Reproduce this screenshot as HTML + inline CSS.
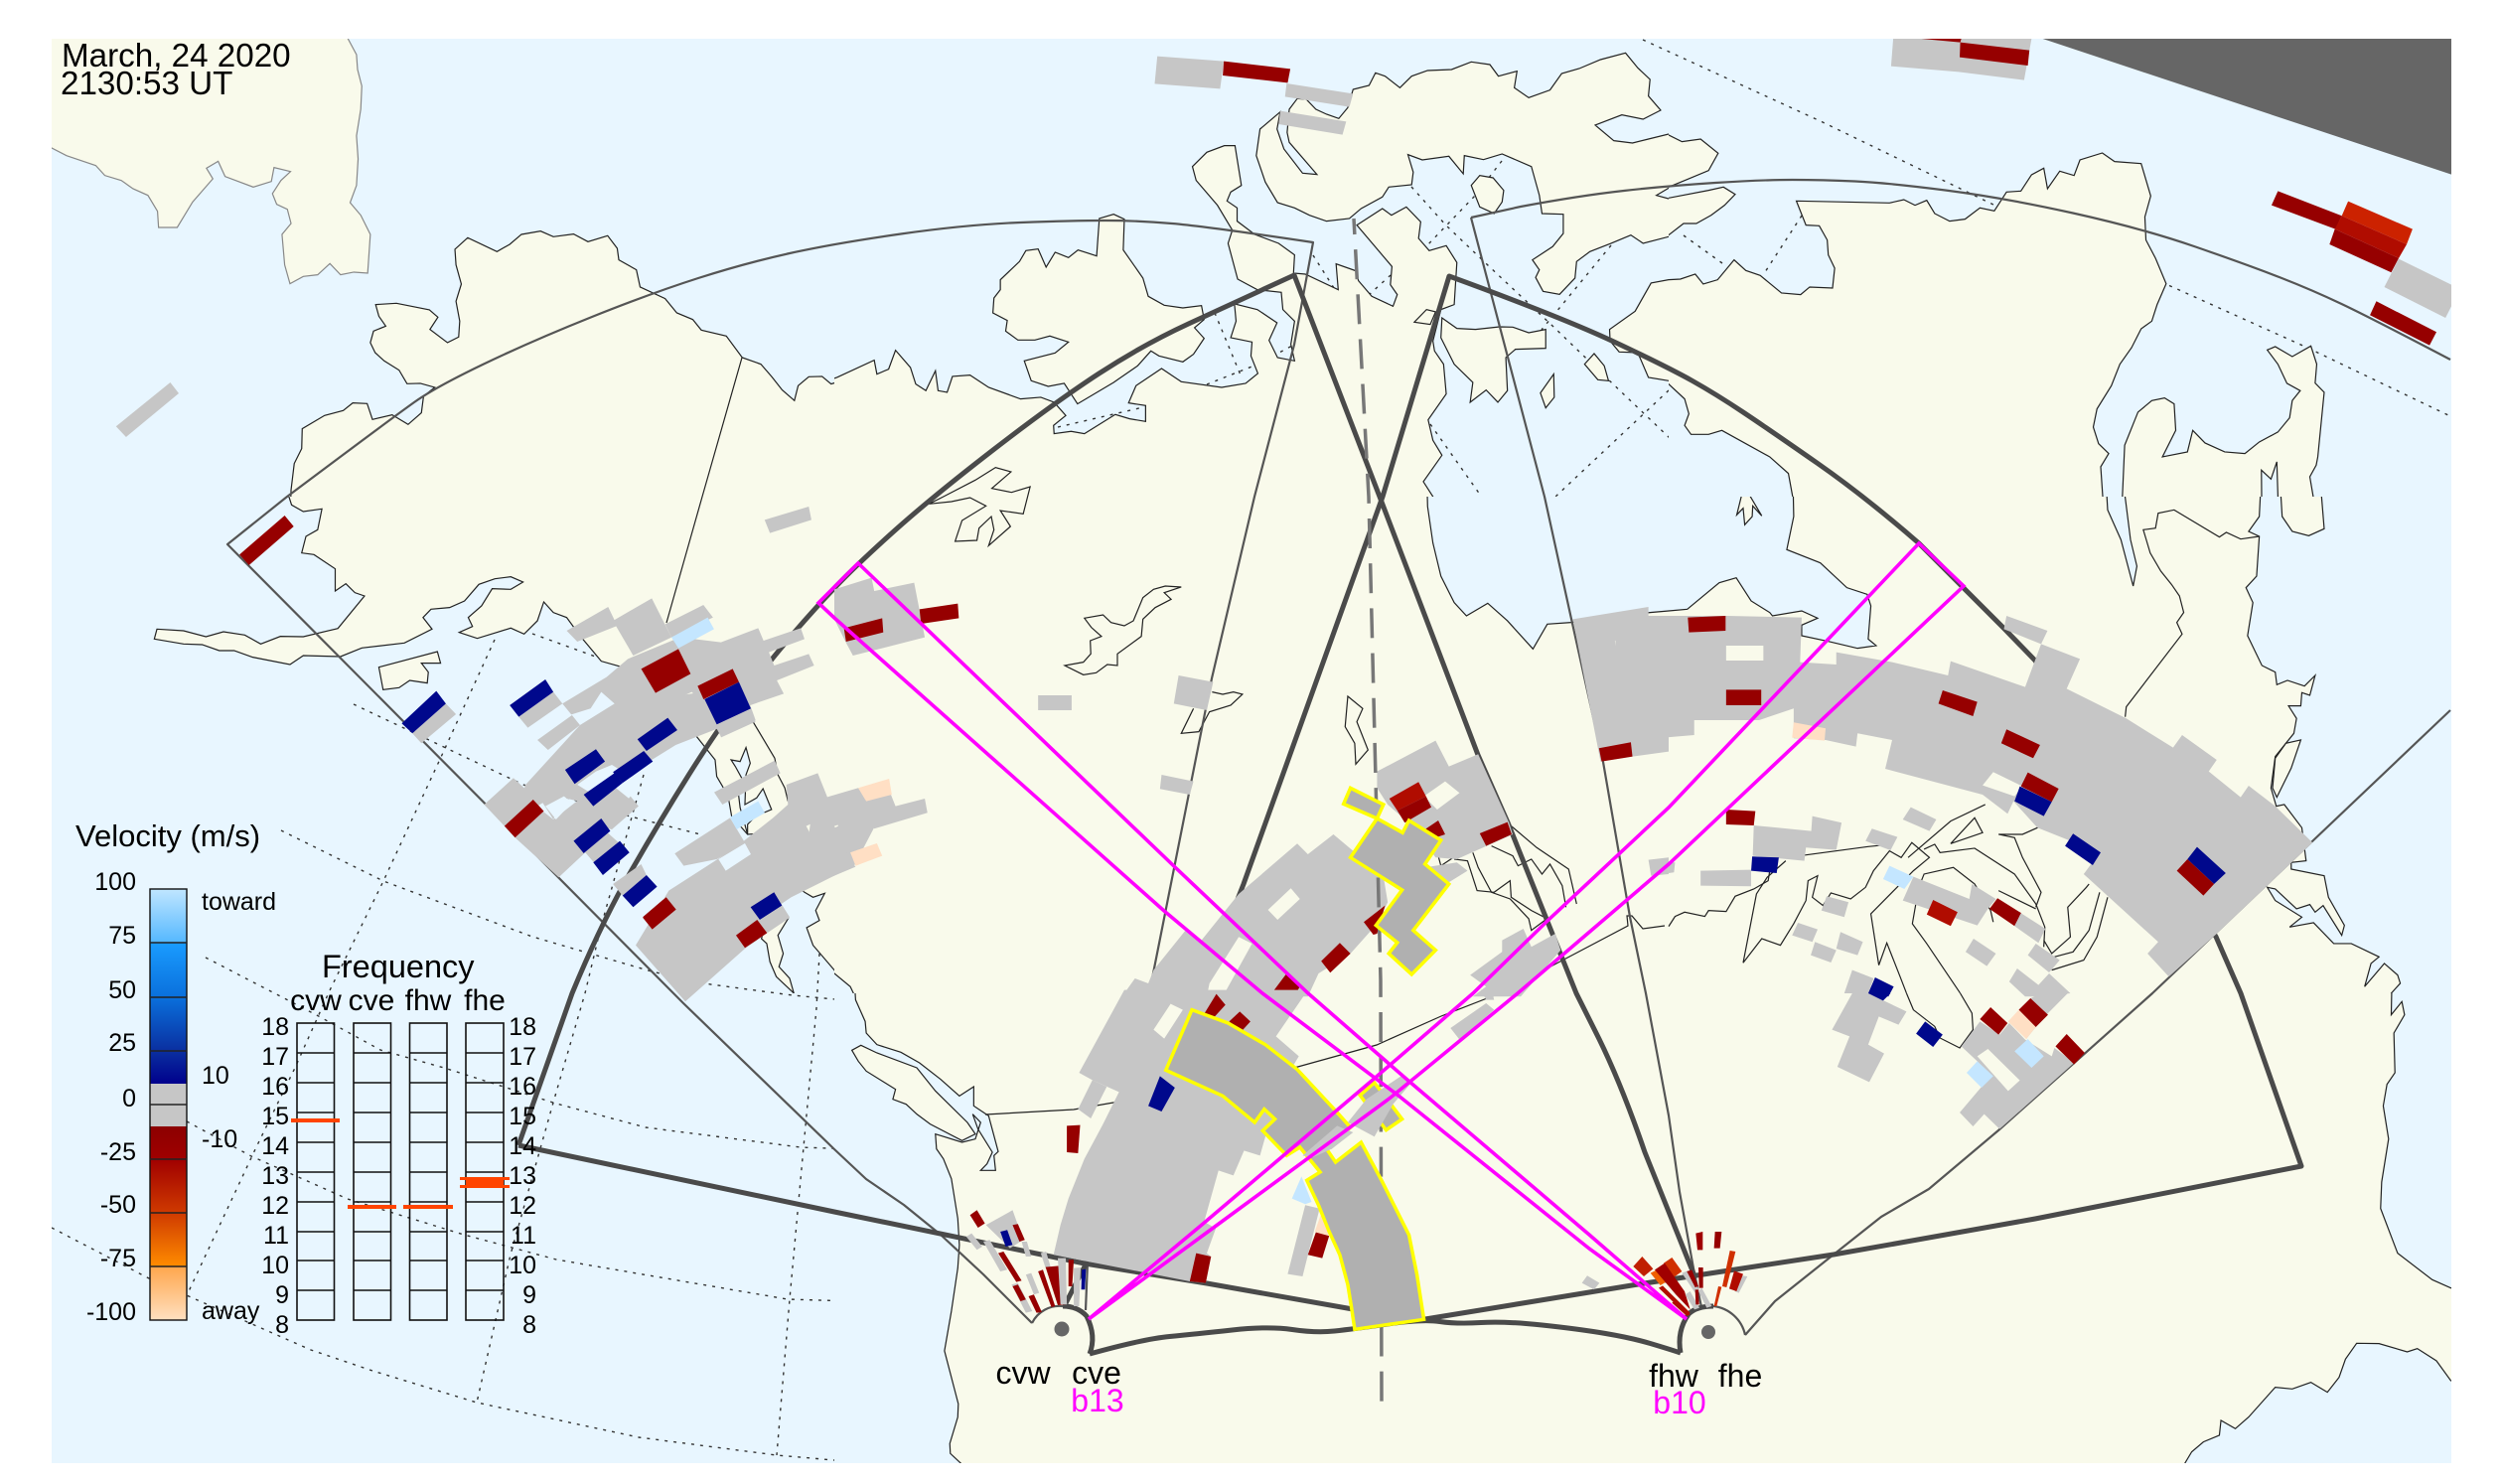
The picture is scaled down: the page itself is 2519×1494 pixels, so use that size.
<!DOCTYPE html>
<html><head><meta charset="utf-8"><style>
html,body{margin:0;padding:0;background:#fff}
svg{display:block}
polygon,polyline,path{vector-effect:non-scaling-stroke}
text{font-family:"Liberation Sans",sans-serif;fill:#000}
.l{fill:#f9faeb;stroke:#222;stroke-width:1.2}
.s{fill:#f9faeb;stroke:#888;stroke-width:1.2}
.w{fill:#e8f6ff;stroke:#222;stroke-width:1.2}
.n{fill:none;stroke:#222;stroke-width:1.2}
.d{fill:none;stroke:#333;stroke-width:1.4;stroke-dasharray:3 6}
.g{fill:#c6c6c6}.r{fill:#960000}.b{fill:#00088c}.lb{fill:#c4e6ff}.p{fill:#ffdfc4}
.hl{fill:#f9faeb}.hw{fill:#e8f6ff}
.y{fill:#b0b0b0;stroke:#ffff00;stroke-width:3.5;stroke-linejoin:miter}
.t{fill:none;stroke:#4a4a4a;stroke-width:5;stroke-linejoin:round}
.f{fill:none;stroke:#555;stroke-width:2.2;stroke-linejoin:round}
.m{fill:none;stroke:#ff00ff;stroke-width:3.6}
.bar{fill:none;stroke:#111;stroke-width:1.6}
.o{fill:#ff4400}
.num{font-size:25px}
</style></head><body>
<svg xmlns="http://www.w3.org/2000/svg" width="2519" height="1494" viewBox="0 0 2519 1494">
<defs>
<clipPath id="map"><rect x="52" y="39" width="2416" height="1434"/></clipPath>
<clipPath id="c1"><rect x="0" y="0" width="840" height="500"/></clipPath>
<clipPath id="c2"><rect x="840" y="0" width="840" height="500"/></clipPath>
<clipPath id="c3"><rect x="1680" y="0" width="840" height="500"/></clipPath>
<clipPath id="c4"><rect x="0" y="500" width="840" height="500"/></clipPath>
<clipPath id="c5"><rect x="840" y="500" width="840" height="500"/></clipPath>
<clipPath id="c6"><rect x="1680" y="500" width="840" height="500"/></clipPath>
<clipPath id="c8"><rect x="840" y="1000" width="840" height="494"/></clipPath>
<clipPath id="c9"><rect x="1680" y="1000" width="840" height="494"/></clipPath>
<linearGradient id="vel" gradientUnits="userSpaceOnUse" x1="0" y1="895" x2="0" y2="1329">
<stop offset="0" stop-color="#c0e6ff"/><stop offset=".124" stop-color="#55b8ff"/><stop offset=".124" stop-color="#1a9cff"/>
<stop offset=".251" stop-color="#0a70dc"/><stop offset=".376" stop-color="#0a2fa0"/><stop offset=".452" stop-color="#00008c"/>
<stop offset=".452" stop-color="#c6c6c6"/><stop offset=".551" stop-color="#c6c6c6"/><stop offset=".551" stop-color="#8c0000"/>
<stop offset=".627" stop-color="#a00000"/><stop offset=".751" stop-color="#cf3a00"/><stop offset=".876" stop-color="#ff8c00"/>
<stop offset=".876" stop-color="#ffa64d"/><stop offset="1" stop-color="#ffe0c0"/>
</linearGradient>
</defs>
<rect width="2519" height="1494" fill="#fff"/>
<g clip-path="url(#map)">
<rect x="52" y="39" width="2416" height="1434" fill="#e8f6ff"/>
<!-- graticule -->
<polyline class="d" points="52,1236 150,1287 190,1305 313,1359 375,1380 480,1412 643,1447 782,1465 840,1470 966,1473"/>
<polyline class="d" points="207,964 317,1021 383,1057 447,1075 510,1095 560,1111 650,1135 806,1155 942,1160"/>
<polyline class="d" points="283,836 386,887 536,943 656,978 708,990 798,1002 862,1008"/>
<polyline class="d" points="188,1129 253,1164 350,1207 467,1243 560,1268 793,1308 960,1313"/>
<polyline class="d" points="356,709 527,790 627,820 705,840"/>
<polyline class="d" points="536,638 605,663"/>
<polyline class="d" points="498,644 445,760 386,887 332,997 297,1075 257,1157 190,1300"/>
<polyline class="d" points="648,780 605,933 589,1000 557,1110 514,1263 480,1412"/>
<polyline class="d" points="825,960 822,1015 809,1155 795,1308 782,1465"/>
<polyline class="d" points="1654,40 1835,123 2009,207 2183,287 2323,350 2467,419"/>
<polyline class="d" points="1421,188 1456,227 1499,268 1563,328 1617,380 1680,440 1726,493 1766,530 1814,587 1878,647"/>
<polyline class="d" points="1512,162 1485,197 1437,247"/>
<polyline class="d" points="1622,247 1552,332"/>
<polyline class="d" points="1680,393 1566,500 1450,580"/>
<polyline class="d" points="1799,478 1752,528 1680,588 1660,610"/>
<polyline class="d" points="1440,427 1488,495 1576,620"/>
<polyline class="d" points="2340,537 2297,607"/>
<polyline class="d" points="2263,635 2384,718"/>
<polyline class="d" points="2465,595 2341,815"/>
<polyline class="d" points="1223,315 1250,380"/>
<polyline class="d" points="1215,387 1263,368 1303,347"/>
<polyline class="d" points="1065,430 1151,410"/>
<polyline class="d" points="1322,257 1343,290"/>
<polyline class="d" points="1378,297 1400,277"/>
<polyline class="d" points="1814,217 1775,277"/>
<polyline class="d" points="1695,237 1734,265"/>
<!-- land cell 1 -->
<g clip-path="url(#c1)"><g transform="translate(0,0) scale(.5357,.3333)">
<polygon class="s" points="654,117 670,165 672,210 680,260 678,330 670,410 673,480 670,560 658,612 678,650 696,708 691,825 665,822 640,830 620,796 597,830 570,835 545,857 535,800 530,708 547,675 540,632 520,617 512,585 528,545 546,518 515,506 510,548 476,565 423,533 410,487 388,508 400,540 362,610 333,687 298,687 296,638 278,590 250,570 228,545 197,530 180,500 125,470 97,447 0,400 0,0 654,0"/>
<polygon class="l" points="547,1480 553,1400 567,1355 568,1295 610,1255 645,1240 663,1217 690,1219 700,1267 737,1253 767,1282 792,1247 796,1197 817,1170 790,1158 765,1159 750,1118 722,1090 705,1065 696,1035 702,1000 725,985 712,955 706,920 745,916 807,936 823,958 808,995 841,1035 862,1018 864,970 857,910 867,858 857,800 855,753 879,718 934,760 958,738 980,708 1016,698 1040,715 1078,707 1105,730 1142,712 1160,750 1163,785 1196,815 1203,867 1250,902 1272,945 1302,965 1318,997 1365,1015 1395,1080 1430,1100 1450,1137 1470,1178 1493,1210 1500,1165 1520,1138 1545,1137 1562,1160 1600,1140 1700,1200 1700,1600 545,1600"/>
</g></g>
<!-- land cell 2 -->
<g clip-path="url(#c2)"><g transform="translate(840,0) scale(.5357,.3333)">
<polygon class="l" points="-100,1200 5,1140 75,1088 80,1130 102,1115 115,1058 143,1110 153,1160 172,1180 190,1120 195,1180 212,1185 222,1137 255,1133 290,1170 350,1205 388,1200 413,1215 435,1255 412,1285 413,1310 445,1303 470,1310 528,1252 555,1265 585,1273 585,1225 553,1217 567,1165 615,1113 652,1153 728,1170 773,1158 796,1128 783,1075 785,1033 745,1020 755,970 752,918 795,935 832,975 817,1028 833,1080 865,1090 858,1040 865,970 843,935 840,883 795,875 758,843 740,735 748,695 720,620 680,545 673,503 700,460 733,440 753,440 765,560 745,580 738,607 757,628 757,668 790,708 835,735 865,770 863,825 885,828 947,875 943,797 980,818 985,848 1010,895 1050,925 1058,890 1045,860 1048,805 982,680 1030,630 1047,650 1075,625 1102,670 1098,720 1118,757 1150,742 1170,793 1165,920 1140,935 1125,1030 1128,1060 1145,1100 1150,1190 1116,1268 1125,1330 1142,1375 1107,1455 1125,1500 1125,1600 -100,1600"/>
<polygon class="l" points="525,647 545,662 543,755 580,840 590,895 620,922 655,930 690,923 695,965 677,990 695,1022 675,1070 655,1093 610,1075 595,1060 570,1105 525,1155 457,1220 432,1158 402,1167 370,1150 357,1090 415,1066 440,1033 405,1015 377,1027 345,1027 322,1000 325,968 298,945 300,900 312,875 312,845 348,790 360,757 383,752 398,807 415,762 440,778 458,755 493,773 498,660"/>
<polygon class="l" points="838,338 800,390 793,470 810,550 833,612 865,628 893,650 925,668 968,660 990,630 1030,595 1042,565 1085,558 1088,520 1078,467 1105,483 1155,472 1182,525 1184,470 1220,482 1255,465 1310,503 1325,590 1330,645 1370,647 1370,705 1350,745 1312,785 1325,815 1318,838 1332,880 1363,889 1392,840 1395,790 1420,760 1460,735 1497,710 1520,735 1568,715 1700,700 1700,640 1568,600 1545,590 1568,568 1700,550 1700,405 1568,405 1530,420 1500,432 1465,425 1430,378 1480,347 1520,360 1553,333 1530,290 1533,240 1510,205 1487,160 1440,180 1400,207 1367,222 1345,272 1305,295 1278,265 1283,215 1248,230 1232,195 1197,187 1160,210 1115,213 1085,230 1063,265 1035,230 1017,220 1005,258 975,270 965,325 948,358 925,345 905,330 887,300 870,298 855,330 851,400 855,430 907,527 880,523 845,450 832,390"/>
<polygon class="l" points="1197,560 1213,530 1238,537 1258,575 1255,610 1240,645 1213,625"/>
<polygon class="l" points="1142,960 1170,992 1205,995 1250,987 1275,988 1305,1005 1337,995 1337,1052 1280,1055 1262,1080 1265,1180 1247,1215 1225,1178 1195,1215 1200,1155 1165,1100 1140,1020"/>
<polygon class="l" points="1090,973 1113,935 1130,942 1120,980"/>
<polygon class="l" points="1410,1100 1428,1068 1447,1105 1455,1150 1435,1147"/>
<polygon class="l" points="1327,1187 1352,1130 1353,1200 1337,1232"/>
<polygon class="l" points="1700,845 1568,845 1535,855 1505,940 1457,995 1458,1030 1475,1063 1510,1065 1530,1140 1568,1150 1700,1200"/>
</g></g>
<!-- land cell 3 -->
<g clip-path="url(#c3)"><g transform="translate(1680,0) scale(.5357,.3333)">
<polygon class="l" points="-100,400 0,408 25,428 60,420 93,463 75,515 30,545 0,565 -30,590 0,598 75,575 103,565 125,587 105,620 80,650 52,675 28,675 0,710 -100,760"/>
<polygon class="l" points="-100,845 0,845 22,843 50,828 65,858 92,845 123,785 145,817 172,832 212,885 248,890 265,867 308,870 312,810 300,770 298,725 283,682 258,680 240,607 330,610 415,613 442,603 463,620 485,605 500,645 528,668 557,662 585,628 612,637 635,580 662,577 682,528 705,508 712,570 735,517 762,530 773,483 815,462 838,488 888,494 906,592 895,655 897,725 915,780 935,857 918,920 908,970 888,993 870,1050 848,1100 832,1165 805,1235 798,1290 808,1340 827,1370 812,1410 820,1600 -100,1600"/>
<polygon class="l" points="850,1600 857,1345 882,1245 908,1210 932,1202 950,1220 953,1300 928,1380 975,1365 985,1300 1008,1338 1045,1365 1083,1370 1110,1335 1145,1305 1167,1262 1172,1210 1187,1180 1162,1158 1145,1100 1125,1057 1140,1047 1172,1077 1207,1045 1218,1100 1215,1157 1232,1185 1220,1380 1217,1405 1205,1440 1222,1600 1147,1600 1143,1395 1132,1447 1114,1420 1115,1600"/>
<polygon class="w" points="-100,1100 0,1160 30,1205 38,1250 30,1285 42,1312 75,1312 100,1300 190,1380 225,1430 233,1500 235,1600 -100,1600"/>
</g></g>
<!-- land cell 4 -->
<g clip-path="url(#c4)"><g transform="translate(0,500) scale(.5357,.3333)">
<polygon class="l" points="543,-100 543,0 548,25 570,45 605,37 597,100 575,120 567,170 590,175 630,218 630,285 650,263 667,290 685,300 635,398 570,423 527,422 490,445 460,418 420,408 387,423 345,405 295,400 290,430 345,445 380,447 412,465 440,465 475,485 545,507 570,480 640,483 680,457 760,442 812,400 795,365 810,340 845,335 873,315 900,265 930,248 960,242 983,258 960,280 925,278 905,330 880,365 888,392 863,410 897,428 960,397 985,415 1010,375 1022,318 1040,350 1065,365 1090,420 1130,497 1170,515 1262,620 1307,720 1344,795 1347,845 1358,875 1369,910 1375,965 1405,1020 1425,1018 1440,1100 1512,1195 1528,1210 1550,1198 1533,1250 1540,1280 1516,1302 1528,1355 1568,1430 1578,1455 1604,1490 1612,1540 1700,1540 1700,-100"/>
<polygon class="w" points="1374,795 1391,800 1402,758 1410,805 1402,840 1400,930 1422,910 1434,882 1450,945 1420,965 1405,990 1405,1020 1391,940 1388,900 1394,850 1382,815"/>
<polygon class="l" points="712,515 822,468 828,503 792,503 805,530 803,563 770,555 750,577 720,583"/>
<polygon class="l" points="1431,1335 1441,1350 1447,1405 1459,1450 1492,1500 1484,1455 1464,1420 1472,1380 1462,1325 1481,1275 1440,1290"/>
<polyline class="n" points="1416,682 1456,790 1462,840 1475,880 1481,920"/>
</g></g>
<!-- land cell 5 -->
<g clip-path="url(#c5)"><rect x="840" y="500" width="840" height="500" fill="#f9faeb"/><g transform="translate(840,500) scale(.5357,.3333)">
<polygon class="w" points="1113,-100 1115,30 1125,140 1140,240 1165,320 1188,360 1228,322 1265,375 1313,460 1340,385 1385,380 1533,350 1568,345 1700,345 1700,-100"/>
<polygon class="w" points="-100,1440 0,1440 30,1480 36,1500 36,1600 -100,1600"/>
</g></g>
<!-- land cell 6 -->
<g clip-path="url(#c6)"><rect x="1680" y="500" width="840" height="500" fill="#f9faeb"/><g transform="translate(1680,500) scale(.5357,.3333)">
<polygon class="w" points="-100,-100 -100,345 0,345 35,340 95,260 127,245 155,315 190,350 195,360 250,345 280,367 250,388 250,420 300,437 355,458 390,450 375,430 380,330 373,295 335,275 285,200 222,160 235,60 233,-100"/>
<polygon class="l" points="128,55 138,-10 150,-10 175,58 158,28 157,60 143,85 140,35"/>
<polygon class="w" points="820,-100 825,40 850,130 873,270 880,210 868,130 850,-100"/>
<polygon class="w" points="1115,-100 1110,60 1090,105 1110,120 1105,240 1085,275 1098,320 1088,420 1115,510 1140,530 1143,568 1163,555 1195,572 1215,540 1205,600 1190,592 1188,632 1165,632 1180,670 1175,715 1140,785 1132,880 1142,935 1157,930 1190,1000 1198,1100 1170,1105 1170,1125 1232,1145 1240,1210 1270,1295 1265,1325 1230,1235 1215,1255 1205,1232 1180,1245 1140,1185 1125,1180 1140,1220 1190,1270 1167,1300 1212,1287 1250,1350 1283,1350 1335,1390 1320,1410 1308,1480 1345,1410 1370,1445 1375,1470 1358,1500 1358,1600 1700,1600 1700,-100"/>
<polygon class="l" points="1147,-100 1153,60 1172,105 1203,118 1232,97 1222,-100"/>
<polygon class="l" points="1135,880 1140,790 1160,745 1188,735 1170,820 1143,908"/>
</g></g>
<!-- land cell 8 -->
<g clip-path="url(#c8)"><rect x="840" y="1000" width="840" height="494" fill="#f9faeb"/><g transform="translate(840,1000) scale(.5357,.3333)">
<polygon class="w" points="-100,-100 35,-100 40,20 58,85 60,120 80,155 125,178 160,210 200,260 235,310 262,282 262,340 290,370 300,430 308,478 300,490 303,535 275,535 287,515 297,480 270,410 260,365 275,390 265,440 240,450 190,425 192,470 205,500 220,560 232,680 235,760 232,830 220,960 207,1080 233,1240 232,1280 217,1360 218,1390 238,1420 240,1600 -100,1600"/>
<polygon class="l" points="33,172 50,157 80,180 155,225 190,295 250,390 265,425 240,445 180,395 155,365 135,335 110,320 115,290 60,235 45,205"/>
</g></g>
<!-- land cell 9 -->
<g clip-path="url(#c9)"><rect x="1680" y="1000" width="840" height="494" fill="#f9faeb"/><g transform="translate(1680,1000) scale(.5357,.3333)">
<polygon class="w" points="1360,-100 1358,65 1378,25 1383,65 1363,120 1365,240 1350,275 1343,340 1353,440 1340,570 1338,650 1370,785 1435,865 1470,890 1700,950 1700,-100"/>
<polygon class="w" points="970,1420 983,1385 1005,1355 1035,1335 1038,1290 1065,1315 1090,1280 1140,1190 1172,1195 1207,1175 1238,1205 1260,1160 1272,1105 1293,1057 1335,1058 1388,1083 1407,1073 1443,1110 1470,1170 1600,1200 1600,1600 970,1600"/>
<polyline class="n" points="447,0 460,50 500,100 510,135 547,165 572,110 570,60 548,0"/>
</g></g>
<!-- lakes and borders -->
<g transform="translate(840,500) scale(.5357,.3333)">
<polygon class="n" points="178,22 205,0 265,-50 303,-88 332,-75 296,-25 333,-13 368,-30 355,52 312,42 331,90 290,148 300,100 295,60 272,95 268,132 227,135 240,72 285,28 255,3 220,15"/>
<polygon class="n" points="470,367 505,357 520,380 545,390 562,375 580,305 600,280 622,270 652,273 620,290 633,310 603,335 580,370 577,422 532,475 532,510 513,507 492,532 468,538 433,510 468,500 482,475 481,435 502,422 483,395"/>
<polygon class="n" points="965,603 993,640 982,680 1003,765 980,808 978,745 960,695"/>
<polyline class="n" points="710,590 730,597 750,590 767,597 745,630 705,650 685,710 652,715 675,640"/>
<polyline class="n" points="1265,985 1320,1060 1380,1125 1395,1230"/>
<polyline class="n" points="1235,1055 1275,1085 1285,1115 1310,1095 1330,1140 1345,1110 1368,1175 1375,1240"/>
<polyline class="n" points="1165,1095 1190,1100 1208,1190 1240,1195 1270,1160 1272,1210 1310,1250 1340,1275"/>
<polyline class="n" points="1200,1075 1210,1120 1235,1195 1270,1215 1305,1275 1310,1310 1335,1280"/>
<polygon class="n" points="1135,1085 1165,1065 1168,1085 1140,1115"/>
</g>
<polyline class="n" points="747,360 707,500 671,627"/>
<polyline class="n" points="992,1122 1081,1117 1121,1110 1303,1075 1386,1052 1451,1023 1510,1000 1639,932 1638,922 1643,922 1654,935 1676,932"/>
<g transform="translate(1680,500) scale(.5357,.3333)">
<polyline class="n" points="0,1298 12,1268 30,1255 68,1268 75,1250 108,1253 125,1207 160,1185 187,1160 190,1130"/>
<polyline class="n" points="255,1083 375,1057 420,1050"/>
<polyline class="n" points="140,1408 175,1335 210,1355 235,1290 258,1220 262,1160 280,1145 270,1210 290,1235 305,1197 342,1215 370,1180 385,1130 415,1070 437,1090 457,1045 490,1090 460,1130 380,1260 395,1415 410,1348 435,1450 447,1500"/>
<polyline class="n" points="140,1408 165,1200 185,1150 220,1100"/>
<polyline class="n" points="548,1500 485,1350 458,1290 470,1180 480,1140 535,1120 575,1170 605,1250 610,1285"/>
<polyline class="n" points="480,1065 500,1050 510,1075 575,1062 650,1140 690,1230 707,1300 705,1360"/>
<polyline class="n" points="695,950 693,1000 665,1020 620,1020 650,1030 665,1090 700,1195 690,1240"/>
<polyline class="n" points="620,1190 690,1245"/>
<polyline class="n" points="450,1090 530,980 595,930"/>
<polygon class="n" points="530,1048 575,970 590,1015"/>
<polyline class="n" points="705,1340 720,1380 755,1330 750,1240 785,1180 790,1170"/>
<polyline class="n" points="725,1390 760,1375 790,1310 810,1195"/>
<polyline class="n" points="720,1430 780,1400 805,1330 825,1210"/>
<polyline class="n" points="1110,120 1075,128 1048,108 1035,122 950,40 920,50 915,95 892,100 905,170 925,225 945,265 960,300 968,350 955,380 965,415 860,635 858,665"/>
</g>
<!-- twilight wedge -->
<g transform="translate(1680,0) scale(.5357,.3333)"><polygon fill="#666" points="703,117 1471,117 1471,527"/></g>
<!-- FOVs -->
<path class="f" d="M1039,1332 L990,1283 L947,1243 L910,1213 L872,1187 L840,1157 L688,1010 L229,548 L289,500 L342.500,460 Q396,420 417,405 Q438,390 487,366.500 Q536,343 596,319 Q656,295 703,280 Q750,265 795,255 Q840,245 907,235.500 Q974,226 1027.500,224 Q1081,222 1113,222 Q1145,222 1180,225 Q1215,228 1322,244 L1303,347 L1263,500 L1220,683 L1161,980 L1120,1150 L1095,1270 L1093,1319"/>
<path class="f" d="M1481,219 L1531,208 Q1590,197 1635,192 Q1680,187 1727,184 Q1774,181 1804.500,181 Q1835,181 1867.500,182.500 Q1900,184 1958.500,191.500 Q2017,199 2087,214.500 Q2157,230 2210.500,248.500 Q2264,267 2296,279.500 Q2328,292 2357.500,306 Q2387,320 2467,362"/>
<polyline class="f" points="1481,219 1555,500 1582,623 1614,767 1641,923 1657,1000 1680,1123 1691,1200 1705,1277 1713,1316"/>
<polyline class="f" points="2467,715 2328,847 2167,1000 2012,1138 1942,1197 1894,1225 1841,1267 1787,1310 1757,1344"/>
<path class="f" d="M1757,1344 A37,37 0 0 0 1725,1315"/>
<path class="f" d="M1039,1332 A31,31 0 0 1 1070,1315"/>
<path class="t" d="M522,1153 L576,1000 Q605,930 634.500,878.500 Q664,827 693.500,780 Q723,733 750,698 Q777,663 798.500,638 Q820,613 842,590 Q864,567 901.500,533.500 Q939,500 1000.500,452.500 Q1062,405 1106.500,376 Q1151,347 1196.500,326 Q1242,305 1303,277 L1389,500 L1488,760 L1518,828 L1587,1000 L1610,1046 Q1633,1093 1656,1160 L1707,1287"/>
<path class="t" d="M522,1153 L840,1220 L1092,1272 L1215,1292 L1362,1318 L1435,1328 L1649,1293 L1846,1263 L2049,1227 L2317,1174 L2256,1000 L2231,943 L2049,665 L2017,632 L1932,547 Q1878,500 1830,466.500 Q1782,433 1755,415 Q1728,397 1704,383.500 Q1680,370 1627,345 Q1574,320 1459,278 L1392,500 L1252,890 L1212,992 L1130,1170 L1092,1275 L1073,1312"/>
<path class="t" d="M1692,1362 Q1680,1358 1661.500,1352.500 Q1643,1347 1616.500,1342.500 Q1590,1338 1552.500,1334 Q1515,1330 1491,1331.500 Q1467,1333 1449.500,1330.500 Q1432,1328 1397,1333 Q1362,1338 1343.500,1340 Q1325,1342 1301,1338.500 Q1277,1335 1240.500,1339 Q1204,1343 1177.500,1345.500 Q1151,1348 1097,1363"/>
<path class="t" d="M1097,1363 Q1104,1345 1094,1325 Q1085,1315 1070,1315"/>
<path class="t" d="M1692,1362 Q1688,1340 1700,1323 Q1708,1315 1725,1315"/>
<circle cx="1069" cy="1338" r="7.500" fill="#666"/>
<circle cx="1720" cy="1341" r="7" fill="#666"/>
<!-- data cell 1, 2, 3 -->
<g transform="translate(0,0) scale(.5357,.3333)"><polygon class="g" points="320,1155 336,1188 237,1320 218,1288"/></g>
<g transform="translate(840,0) scale(.5357,.3333)">
<polygon class="g" points="607,170 732,185 725,268 602,253"/><polygon class="r" points="732,185 857,208 852,250 730,228"/>
<polygon class="g" points="850,252 975,283 968,323 847,292"/><polygon class="g" points="838,335 962,367 955,407 835,375"/>
</g>
<g transform="translate(1680,0) scale(.5357,.3333)">
<polygon class="g" points="422,117 682,117 668,242 545,217 418,200"/><polygon class="r" points="475,117 550,117 548,128"/><polygon class="r" points="548,128 678,152 675,198 547,173"/>
<polygon class="r" points="1145,577 1265,652 1253,692 1133,620"/><polygon fill="#cc2200" points="1277,608 1398,692 1387,738 1265,652"/><polygon fill="#b00c00" points="1265,652 1387,738 1372,780 1252,692"/><polygon class="r" points="1252,692 1372,780 1358,823 1242,738"/>
<polygon class="g" points="1372,782 1471,860 1471,925 1460,960 1345,867"/><polygon class="r" points="1330,910 1443,1003 1430,1043 1318,952"/>
</g>
<!-- data cell 4 -->
<g transform="translate(0,500) scale(.5357,.3333)">
<polygon class="g" points="1065,405 1143,333 1160,390 1085,438"/>
<polygon class="g" points="1152,375 1225,307 1262,425 1190,480"/>
<polygon class="g" points="1250,385 1322,327 1340,365 1262,425"/>
<polygon class="g" points="1057,625 1140,545 1180,490 1278,425 1355,440 1425,397 1435,435 1505,397 1512,430 1445,470 1455,510 1520,475 1530,510 1460,555 1473,595 1410,630 1420,675 1355,725 1320,620 1300,590 1260,620 1250,640 1265,665 1200,735 1090,690"/>
<polygon class="g" points="1090,690 1200,620 1320,590 1350,700 1270,750 1220,800 1150,870 1115,930 1060,910 1040,975 1020,925 985,875"/>
<polygon class="g" points="910,930 965,850 985,880 1075,760 1140,800 1060,910 1020,925 948,995"/>
<polygon class="g" points="948,995 1000,925 1040,975 1100,900 1150,870 1200,935 1135,1005 1180,1070 1135,1140 1100,1075 1050,1150 968,1030"/>
<polygon class="hw" points="1110,640 1130,590 1155,625 1090,690 1070,660"/>
<polygon class="hw" points="1120,830 1150,810 1170,830 1115,900 1085,870"/>
<polygon class="hw" points="1025,935 1060,905 1075,925 1045,975"/>
<polygon class="g" points="975,665 1040,590 1057,625 992,698"/><polygon class="b" points="958,630 1025,552 1040,590 975,665"/>
<polygon class="g" points="1010,735 1075,660 1090,690 1030,765"/>
<polygon class="g" points="1135,1000 1185,905 1200,935 1150,1005"/>
<polygon class="g" points="1437,70 1520,30 1525,70 1447,110"/>
<polygon class="g" points="1152,1170 1205,1110 1215,1143 1170,1205"/>
<polygon class="r" points="450,175 535,57 552,90 468,207"/>
<polygon class="g" points="775,715 838,625 857,657 792,745"/><polygon class="b" points="755,685 820,587 838,625 775,715"/>
<polygon class="lb" points="1262,425 1330,365 1342,400 1275,458"/>
<polygon class="r" points="1205,520 1275,460 1298,535 1232,593"/>
<polygon class="b" points="1062,825 1120,763 1137,800 1080,868"/><polygon class="b" points="1097,900 1155,835 1170,865 1115,935"/>
<polygon class="b" points="1152,832 1210,768 1227,800 1170,865"/><polygon class="b" points="1198,733 1255,668 1273,705 1215,768"/>
<polygon class="r" points="948,995 1002,915 1022,950 968,1030"/><polygon class="b" points="1078,1040 1130,972 1147,1010 1097,1077"/>
<polygon class="b" points="1115,1105 1165,1040 1183,1075 1133,1143"/><polygon class="b" points="1170,1205 1215,1143 1235,1178 1190,1240"/>
<polygon class="r" points="1208,1270 1250,1212 1270,1247 1228,1307"/>
</g>
<!-- data zoom 11 region -->
<g transform="translate(640,640) scale(.3333)">
<polygon class="g" points="0,935 100,770 240,680 320,625 415,550 460,510 455,450 550,415 580,490 680,465 720,450 720,580 660,695 570,740 470,790 440,810 465,850 330,945 150,1105"/>
<polygon class="hl" points="515,575 597,537 612,575 535,612"/>
<polygon class="p" points="650,655 720,630 720,672 665,695"/><polygon class="p" points="670,468 720,450 720,480 685,500"/>
<polygon class="g" points="118,658 285,550 330,625 245,675 145,695"/>
<polygon class="hw" points="250,675 330,627 348,660 272,710"/>
<polygon class="lb" points="285,548 370,500 390,535 305,585"/>
<polygon class="g" points="237,473 420,377 437,415 262,510"/>
<polygon class="r" points="303,905 367,858 397,898 330,943"/><polygon class="b" points="347,820 418,775 442,815 375,858"/><polygon class="g" points="375,858 442,815 465,852 397,898"/>
<polygon class="r" points="22,852 92,790 122,827 50,887"/>
<polygon class="r" points="187,152 293,100 312,140 205,192"/><polygon class="b" points="208,192 312,140 348,220 245,268"/><polygon class="g" points="245,268 348,220 362,260 258,307"/>
</g>
<!-- data cell 5 -->
<g transform="translate(840,500) scale(.5357,.3333)">
<polygon class="g" points="0,280 70,245 75,285 150,260 170,425 35,480 20,435 0,370"/><polygon class="r" points="18,397 90,367 92,410 22,438"/><polygon class="r" points="160,340 232,323 234,367 163,384"/>
<polygon class="g" points="383,600 446,600 446,645 383,645"/><polygon class="g" points="647,540 712,560 700,645 638,625"/><polygon class="g" points="615,840 675,860 668,900 612,883"/>
<polygon class="g" points="-40,920 45,880 60,920 105,895 115,935 170,912 175,955 75,1003 60,965 0,995 30,1100 40,1118 0,1145 -60,1180"/>
<polygon class="p" points="45,880 103,852 108,900 60,920"/><polygon class="p" points="30,1075 80,1047 90,1085 40,1115"/>
<polygon class="g" points="1388,370 1530,333 1530,375 1568,370 1568,770 1500,785 1440,800"/>
<polygon class="hl" points="1467,435 1535,420 1537,460 1470,477"/><polygon class="b" points="1480,565 1545,552 1547,593 1483,608"/><polygon class="r" points="1437,760 1497,742 1500,785 1442,800"/>
<polygon class="g" points="1020,830 1130,737 1155,815 1210,778 1268,985 1275,1020 1205,1070 1170,1095 1130,1090 1090,1000 1040,930 1020,880"/>
<polygon class="hl" points="1108,905 1148,860 1175,895 1133,945"/>
<polygon fill="#b00c00" points="1043,912 1098,862 1112,905 1058,948"/><polygon class="r" points="1058,948 1112,905 1122,938 1072,985"/>
<polygon class="r" points="1110,1005 1135,978 1148,1020 1120,1035"/><polygon class="r" points="1213,1017 1265,983 1273,1020 1225,1055"/>
<polygon class="g" points="545,1500 565,1455 590,1470 600,1430 660,1310 690,1340 735,1250 760,1200 870,1048 890,1080 938,1020 975,1070 1020,1030 1040,1225 1020,1290 970,1380 910,1440 890,1510 820,1510 760,1510 700,1510"/>
<polygon class="hl" points="815,1248 858,1183 875,1215 833,1278"/>
<polygon class="hl" points="705,1470 760,1330 785,1350 730,1510 700,1510"/>
<polygon class="r" points="915,1403 950,1348 970,1380 932,1438"/><polygon class="r" points="822,1500 850,1440 875,1480 860,1520 822,1520"/><polygon class="r" points="995,1285 1035,1235 1020,1320 1013,1323"/>
<polygon class="g" points="1110,1120 1170,1105 1190,1130 1155,1165"/>
<polygon class="g" points="1195,1445 1255,1375 1255,1340 1295,1305 1310,1360 1355,1320 1365,1370 1290,1510 1200,1510 1225,1480"/>
<polygon class="g" points="1530,1097 1568,1090 1568,1140 1535,1145"/>
</g>
<!-- data cell 6 -->
<g transform="translate(1680,500) scale(.5357,.3333)">
<polygon class="g" points="-100,360 110,360 250,365 247,500 315,507 315,470 420,500 525,540 530,497 670,575 700,445 773,490 748,580 860,670 948,758 965,720 1030,795 1015,830 1075,908 1090,873 1140,935 1210,1045 1030,1320 940,1450 900,1380 920,1345 780,1140 810,1075 693,1000 648,920 637,958 590,900 407,822 420,735 355,715 352,755 295,735 235,730 235,640 170,675 48,675 48,720 -100,740"/>
<polygon class="hl" points="108,450 178,450 178,495 108,495"/><polygon class="hl" points="590,872 610,832 665,875 650,905"/>
<polygon class="g" points="635,360 712,405 700,445 630,400"/>
<polygon class="r" points="36,365 107,360 107,405 38,410"/><polygon class="r" points="108,583 174,583 174,630 108,630"/><polygon class="p" points="235,682 295,700 293,737 232,728"/>
<polygon class="r" points="515,585 580,620 572,663 507,625"/><polygon class="r" points="635,703 698,750 685,790 625,745"/><polygon class="r" points="675,833 733,882 720,922 662,875"/>
<polygon class="b" points="660,875 720,922 705,965 650,920"/><polygon class="b" points="760,1018 812,1075 797,1113 745,1055"/><polygon class="b" points="993,1058 1047,1137 1025,1170 975,1095"/><polygon class="r" points="975,1095 1025,1170 1005,1205 955,1130"/>
<polygon class="r" points="108,945 163,950 160,993 108,990"/>
<polygon class="g" points="160,993 268,1010 270,965 325,985 315,1067 258,1060 255,1100 158,1085"/>
<polygon class="g" points="440,975 455,938 503,975 490,1010"/><polygon class="g" points="370,1040 382,1003 430,1028 417,1068"/>
<polygon class="b" points="157,1087 207,1090 203,1137 155,1130"/><polygon class="g" points="60,1130 155,1127 155,1177 60,1175"/><polygon class="g" points="0,1105 12,1105 10,1135 0,1137"/>
<polygon class="lb" points="415,1115 460,1148 443,1185 403,1155"/>
<polygon class="g" points="460,1148 565,1215 570,1170 615,1215 600,1245 580,1295 440,1220"/>
<polygon fill="#b00c00" points="497,1218 543,1255 530,1297 485,1262"/><polygon class="r" points="618,1213 663,1258 650,1297 603,1245"/><polygon class="g" points="662,1258 708,1305 695,1348 650,1297"/>
<polygon class="g" points="297,1207 338,1225 330,1270 287,1250"/><polygon class="g" points="243,1287 280,1307 270,1345 232,1325"/><polygon class="g" points="323,1315 365,1345 355,1385 315,1365"/><polygon class="g" points="275,1345 315,1370 305,1407 267,1385"/>
<polygon class="g" points="573,1335 615,1380 598,1418 558,1375"/><polygon class="g" points="690,1350 735,1400 715,1437 675,1385"/>
<polygon class="g" points="345,1430 385,1455 375,1500 330,1500"/><polygon class="b" points="388,1452 423,1480 413,1510 375,1500"/>
<polygon class="g" points="640,1465 655,1425 695,1475 715,1440 755,1500 700,1510 670,1510"/>
</g>
<!-- data cell 9 -->
<g transform="translate(1680,1000) scale(.5357,.3333)">
<polygon class="g" points="345,-70 385,-45 375,0 447,55 432,95 395,70 375,155 405,182 377,268 317,222 340,130 307,110 345,0"/>
<polygon class="b" points="375,0 417,0 403,22"/>
<polygon class="g" points="550,160 585,85 622,125 640,90 670,140 720,190 725,165 762,210 622,410 593,365 572,402 547,360 605,250 580,205"/>
<polygon class="g" points="658,50 680,15 700,0 750,0 713,60 690,102 672,138"/>
<polygon class="hl" points="580,190 600,168 660,263 638,295"/>
<polygon class="lb" points="650,175 675,138 705,190 682,225"/><polygon class="lb" points="560,240 580,205 610,250 588,285"/>
<polygon class="r" points="605,42 637,90 620,125 585,78"/><polygon class="b" points="482,85 515,125 497,162 465,122"/>
<polygon class="r" points="680,15 713,65 690,102 658,50"/><polygon class="p" points="658,50 690,102 672,138 638,85"/><polygon class="r" points="727,160 748,123 782,180 762,215"/>
</g>
<!-- data cell 8 -->
<g transform="translate(840,1000) scale(.5357,.3333)">
<polygon class="g" points="545,-10 890,-10 830,130 873,190 860,225 900,350 830,430 815,405 800,490 770,475 750,550 722,535 695,690 717,710 700,785 708,795 698,875 668,870 412,790 425,700 440,620 470,500 505,395 535,298 485,262 460,240"/>
<polygon class="g" points="458,350 485,262 512,282 482,378"/>
<polygon class="hl" points="600,110 632,32 655,50 620,137"/>
<polygon class="b" points="590,340 612,250 640,285 615,357"/>
<polygon class="r" points="668,870 680,785 708,795 698,875"/><polygon class="r" points="437,400 462,398 458,483 437,480"/>
<polygon class="r" points="692,70 718,2 735,35 715,70"/><polygon class="r" points="742,85 762,55 782,85 765,115"/>
<polygon class="g" points="852,848 885,640 912,650 880,855"/><polygon class="lb" points="860,620 878,553 897,630 885,637"/><polygon class="p" points="903,720 915,665 933,725 925,735"/><polygon class="r" points="890,790 905,722 930,733 917,800"/>
<polygon class="g" points="1158,105 1225,30 1240,50 1175,140"/><polygon class="g" points="1215,-10 1235,-10 1240,20 1225,20"/>
<polygon class="g" points="1405,875 1415,853 1438,875 1428,895"/>
<!-- cvw fan -->
<polygon class="r" points="255,670 268,655 283,695 270,708"/><polygon class="g" points="285,700 335,655 355,745 330,770"/><polygon class="r" points="335,700 345,697 358,745 348,750"/><polygon class="b" points="312,720 325,715 335,760 322,765"/>
<polygon class="g" points="248,735 258,725 278,765 268,775"/><polygon class="g" points="280,750 292,745 325,835 312,840"/><polygon class="r" points="308,785 318,780 352,868 342,872"/><polygon class="g" points="352,750 362,750 370,795 360,795"/><polygon class="g" points="388,785 398,780 407,830 397,830"/>
<polygon class="g" points="333,880 345,875 372,960 360,965"/><polygon class="r" points="335,885 345,880 360,925 350,930"/><polygon class="r" points="365,915 375,910 390,963 380,965"/><polygon class="g" points="360,850 370,845 385,905 375,910"/>
<polygon class="r" points="397,827 425,823 435,940 420,942"/><polygon class="r" points="383,840 392,835 415,945 408,948"/><polygon class="g" points="420,800 435,800 437,940 425,940"/><polygon class="r" points="440,805 450,805 447,885 440,885"/><polygon class="g" points="450,830 463,828 460,945 450,945"/><polygon class="b" points="465,835 473,833 471,895 464,895"/>
</g>
<!-- fhe fan -->
<g transform="translate(1600,1200) scale(.3333)">
<polygon fill="#c02000" points="133,225 160,195 193,232 165,255"/><polygon fill="#f06000" points="185,245 205,235 232,272 215,282"/>
<polygon fill="#d03000" points="225,215 250,198 280,240 255,258"/><polygon fill="#a00000" points="198,235 228,215 288,300 305,355 262,310"/>
<polygon class="g" points="280,245 300,237 335,300 320,305"/><polygon class="r" points="295,240 310,235 330,285 320,288"/><polygon class="r" points="330,228 344,228 344,290 332,290"/>
<polygon fill="#a00000" points="322,125 343,120 343,175 327,175"/><polygon class="r" points="380,120 400,120 395,170 377,170"/>
<polygon fill="#d03000" points="425,177 442,180 415,288 402,285"/><polygon fill="#d03000" points="390,285 400,287 385,345 377,345"/>
<polygon class="g" points="443,250 478,255 452,305 440,300"/><polygon fill="#b00c00" points="438,238 465,248 445,300 423,292"/>
<polygon class="g" points="290,310 305,300 333,350 318,355"/><polygon class="g" points="330,300 340,290 370,345 355,350"/><polygon class="r" points="320,295 330,295 332,340 322,340"/>
<polygon fill="#b00c00" points="210,290 222,283 305,365 295,372"/><polygon fill="#b00c00" points="250,335 262,325 305,370 295,375"/>
</g>
<!-- dashed centre line -->
<polyline fill="none" stroke="#777" stroke-width="3.5" stroke-dasharray="30 15.2" stroke-dashoffset="14" points="1363,220 1378,500 1390,987 1391,1413"/>
<!-- yellow -->
<g transform="translate(840,500) scale(.5357,.3333)">
<polygon class="y" points="970,880 1032,930 1020,972 957,928"/>
<polygon class="y" points="1020,972 1068,1015 1080,978 1140,1038 1110,1110 1155,1170 1088,1310 1130,1370 1085,1443 1042,1380 1058,1347 1018,1295 1067,1188 970,1090"/>
</g>
<g transform="translate(840,1000) scale(.5357,.3333)">
<polygon class="y" points="672,50 740,90 810,155 870,230 945,360 970,405 925,470 942,510 990,450 1010,510 1030,570 1055,650 1080,730 1095,850 1108,985 978,1015 972,950 965,880 950,790 930,720 910,640 888,565 913,540 875,465 850,490 805,415 828,380 808,350 790,390 730,310 623,232"/>
<polygon class="y" points="988,308 1015,270 1067,380 1037,413"/>
<polygon class="g" points="880,490 945,400 975,420 935,470 900,495"/>
<polygon class="g" points="965,390 1000,320 1065,250 1087,265 1050,335 1015,433"/>
</g>
<!-- magenta -->
<polyline class="m" points="1096,1328 1210,1233 1381,1088 1483,1000 1558,927 1680,813 1932,547 1977,590 1680,870 1528,1000 1400,1105 1223,1235 1096,1328"/>
<polyline class="m" points="1698,1328 1600,1243 1418,1088 1317,1000 1183,873 864,567 824,607 840,622 1172,917 1271,1000 1408,1103 1600,1257 1698,1328"/>
</g>
<!-- title -->
<text x="62" y="67" font-size="33.2">March, 24 2020</text>
<text x="61" y="95" font-size="33.2">2130:53 UT</text>
<!-- velocity legend -->
<text x="76" y="852" font-size="31">Velocity (m/s)</text>
<rect x="151" y="895" width="37" height="434" fill="url(#vel)" stroke="#111" stroke-width="1.4"/>
<g stroke="#222" stroke-width="1.6"><line x1="151" x2="188" y1="949" y2="949"/><line x1="151" x2="188" y1="1004" y2="1004"/><line x1="151" x2="188" y1="1058" y2="1058"/><line x1="151" x2="188" y1="1112" y2="1112"/><line x1="151" x2="188" y1="1167" y2="1167"/><line x1="151" x2="188" y1="1221" y2="1221"/><line x1="151" x2="188" y1="1275" y2="1275"/></g>
<g class="num" text-anchor="end">
<text x="137" y="896">100</text><text x="137" y="950">75</text><text x="137" y="1005">50</text><text x="137" y="1058">25</text><text x="137" y="1114">0</text><text x="137" y="1168">-25</text><text x="137" y="1221">-50</text><text x="137" y="1275">-75</text><text x="137" y="1329">-100</text>
</g>
<g class="num"><text x="203" y="916">toward</text><text x="203" y="1091">10</text><text x="203" y="1155">-10</text><text x="203" y="1328">away</text></g>
<!-- frequency -->
<text x="324" y="984" font-size="32.5">Frequency</text>
<g font-size="30" text-anchor="middle"><text x="318" y="1017">cvw</text><text x="374" y="1017">cve</text><text x="431" y="1017">fhw</text><text x="488" y="1017">fhe</text></g>
<g class="bar">
<rect x="299" y="1030" width="37.5" height="299"/><rect x="356" y="1030" width="37.5" height="299"/><rect x="412.5" y="1030" width="37.5" height="299"/><rect x="469" y="1030" width="38" height="299"/>
<path d="M299,1060H336.500M356,1060H393.500M412.500,1060H450M469,1060H507M299,1090H336.500M356,1090H393.500M412.500,1090H450M469,1090H507M299,1120H336.500M356,1120H393.500M412.500,1120H450M469,1120H507M299,1150H336.500M356,1150H393.500M412.500,1150H450M469,1150H507M299,1180H336.500M356,1180H393.500M412.500,1180H450M469,1180H507M299,1210H336.500M356,1210H393.500M412.500,1210H450M469,1210H507M299,1240H336.500M356,1240H393.500M412.500,1240H450M469,1240H507M299,1269H336.500M356,1269H393.500M412.500,1269H450M469,1269H507M299,1299H336.500M356,1299H393.500M412.500,1299H450M469,1299H507"/>
</g>
<rect class="o" x="293" y="1126" width="49" height="4"/><rect class="o" x="350" y="1213" width="49" height="4"/><rect class="o" x="406" y="1213" width="50" height="4"/>
<rect class="o" x="463" y="1185" width="50" height="3"/><rect class="o" x="463" y="1193" width="50" height="3"/><rect class="o" x="469" y="1185" width="38" height="11"/>
<g class="num" text-anchor="end">
<text x="291" y="1042">18</text><text x="291" y="1072">17</text><text x="291" y="1102">16</text><text x="291" y="1132">15</text><text x="291" y="1162">14</text><text x="291" y="1192">13</text><text x="291" y="1222">12</text><text x="291" y="1252">11</text><text x="291" y="1282">10</text><text x="291" y="1312">9</text><text x="291" y="1342">8</text>
<text x="540" y="1042">18</text><text x="540" y="1072">17</text><text x="540" y="1102">16</text><text x="540" y="1132">15</text><text x="540" y="1162">14</text><text x="540" y="1192">13</text><text x="540" y="1222">12</text><text x="540" y="1252">11</text><text x="540" y="1282">10</text><text x="540" y="1312">9</text><text x="540" y="1342">8</text>
</g>
<!-- site labels -->
<g font-size="32" text-anchor="middle"><text x="1030" y="1393">cvw</text><text x="1104" y="1393">cve</text><text x="1685" y="1396">fhw</text><text x="1752" y="1396">fhe</text></g>
<text x="1105" y="1421" font-size="32" text-anchor="middle" style="fill:#ff00ff">b13</text>
<text x="1691" y="1423" font-size="32" text-anchor="middle" style="fill:#ff00ff">b10</text>
</svg>
</body></html>
